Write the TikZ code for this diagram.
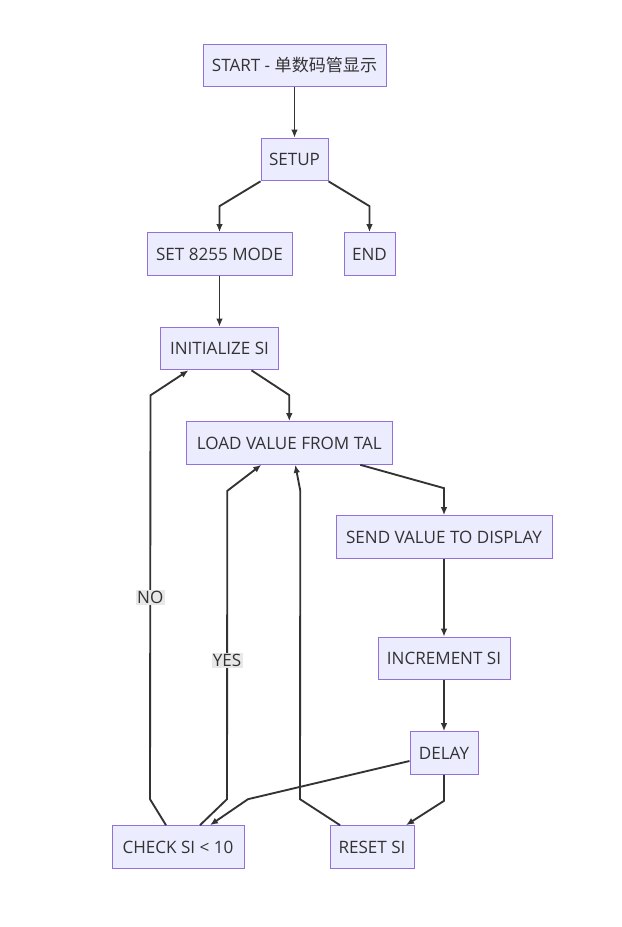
\documentclass[tikz,border=0pt]{standalone}
\usepackage{fontspec}
\setmainfont{Open Sans}
\newfontfamily\cjk{Noto Sans CJK SC}
\usepackage{xcolor}
\usetikzlibrary{calc,arrows.meta}
\definecolor{stepfill}{HTML}{ECECFF}
\definecolor{stepline}{HTML}{9370DB}
\definecolor{inkcol}{HTML}{333333}
\definecolor{lblfill}{HTML}{E8E8E8}

\begin{document}
\begin{tikzpicture}[x=0.75pt, y=-0.75pt,
      stepbox/.style={draw=stepline, line width=0.75pt, fill=stepfill,
                      text=inkcol, font=\fontsize{12.8}{15}\selectfont,
                      inner xsep=2pt, minimum height=32pt},
      arr/.style={-{Latex[length=6pt,width=5pt]}, line width=1.4pt, color=inkcol},
      lbl/.style={fill=lblfill, text=inkcol, font=\fontsize{12.8}{15}\selectfont,
                  inner sep=1pt}]

    \useasboundingbox (0,0) rectangle (621,927);

    % boxes: name / centre x / centre y / width (px) / text
    \foreach \nm/\x/\y/\w/\txt in {
        start/294.5/65.5/183/{START - {\cjk 单数码管显示}},
        setup/294.5/159.5/67/SETUP,
        mode/219.5/254/145/SET 8255 MODE,
        theend/369.5/254/51/END,
        init/219.5/348.5/118/INITIALIZE SI,
        load/289.3/443/206/LOAD VALUE FROM TAL,
        send/444/537/216/SEND VALUE TO DISPLAY,
        incr/444/658.5/132/INCREMENT SI,
        delay/444/753/68/DELAY,
        check/178/847/132/CHECK SI < 10,
        reset/372/847/84/RESET SI}
    {
      \node[stepbox, minimum width=\w*0.75pt] (\nm) at (\x,\y) {\txt};
    }

    \draw[arr] (start) -- (setup);
    \draw[arr] (setup.south west) -- ($(mode.north)+(0,-26)$) -- (mode.north);
    \draw[arr] (setup.south east) -- ($(theend.north)+(0,-26)$) -- (theend.north);
    \draw[arr] (mode) -- (init);
    \draw[arr] ($(init.south)+(32,0)$) -- ($(load.north)+(0,-26)$) -- (load.north);
    \draw[arr] ($(load.south)+(71,0)$) -- ($(send.north)+(0,-27)$) -- (send.north);
    \draw[arr] (send) -- (incr);
    \draw[arr] (incr) -- (delay);
    \draw[arr] ($(delay.west)+(0,8)$) -- ($(check.north)+(70,-26)$) -- ($(check.north)+(32,0)$);
    \draw[arr] (delay.south) -- ($(delay.south)+(0,26)$) -- ($(reset.north)+(34,0)$);

    % loop backs
    \draw[arr] ($(check.north)+(-12,0)$) -- ($(check.north)+(-28,-26)$)
      -- node[lbl] {NO} ($(init.south)+(-69,25)$) -- ($(init.south)+(-31,0)$);
    \draw[arr] ($(check.north)+(22,0)$) -- ($(check.north)+(49,-26)$)
      -- node[lbl, pos=0.45] {YES} ($(load.south)+(-62,26)$) -- ($(load.south)+(-28,0)$);
    \draw[arr] ($(reset.north)+(-32,0)$) -- ($(reset.north)+(-72,-26)$)
      -- ($(load.south)+(11,26)$) -- ($(load.south)+(6,0)$);
\end{tikzpicture}
\end{document}
